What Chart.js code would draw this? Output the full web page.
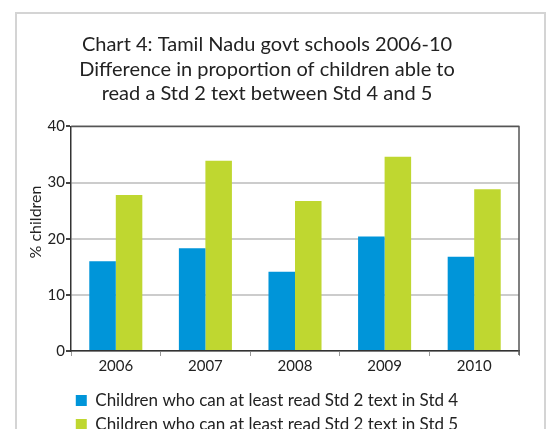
<!DOCTYPE html>
<html>
<head>
<meta charset="utf-8">
<script src="https://cdn.jsdelivr.net/npm/chart.js@4.4.1/dist/chart.umd.min.js"></script>
<style>
  html, body { margin: 0; padding: 0; width: 546px; height: 429px; overflow: hidden; background: #fff; }
  #frame { position: absolute; left: 15px; top: 12px; width: 527px; height: 480px; border: 2px solid #d4d4d4; border-bottom: none; }
  #c { position: absolute; left: 0; top: 0; }
</style>
</head>
<body>
<div id="frame"></div>
<canvas id="c" width="546" height="450"></canvas>
<script>
const titleLines = [
  'Chart 4: Tamil Nadu govt schools 2006-10',
  'Difference in proportion of children able to',
  'read a Std 2 text between Std 4 and 5'
];
const yAxisTitle = '% children';
const categories = ['2006', '2007', '2008', '2009', '2010'];
const seriesLabels = [
  'Children who can at least read Std 2 text in Std 4',
  'Children who can at least read Std 2 text in Std 5'
];
const std4Values = [16.0, 18.3, 14.1, 20.4, 16.8];
const std5Values = [27.8, 33.9, 26.7, 34.6, 28.8];
const yMin = 0, yMax = 40, yStep = 10;

const FONT = 'Lato, "Open Sans", sans-serif';
const BLUE = '#0095d9';
const GREEN = '#bfd730';

const extras = {
  id: 'extras',
  afterDraw(chart) {
    const ctx = chart.ctx;
    const a = chart.chartArea;
    ctx.save();
    ctx.strokeStyle = '#555';
    ctx.lineWidth = 1.5;
    ctx.beginPath();
    ctx.moveTo(a.left, a.top);
    ctx.lineTo(a.right, a.top);
    ctx.lineTo(a.right, a.bottom + 4);
    ctx.stroke();
    ctx.fillStyle = '#222';
    ctx.font = '16px ' + FONT;
    ctx.textAlign = 'center';
    ctx.textBaseline = 'middle';
    ctx.translate(36, 222);
    ctx.rotate(-Math.PI / 2);
    ctx.fillText(yAxisTitle, 0, 0);
    ctx.restore();
  }
};

new Chart(document.getElementById('c'), {
  type: 'bar',
  data: {
    labels: categories,
    datasets: [
      { label: seriesLabels[0], data: std4Values, backgroundColor: BLUE, borderWidth: 0 },
      { label: seriesLabels[1], data: std5Values, backgroundColor: GREEN, borderWidth: 0 }
    ]
  },
  options: {
    responsive: false,
    animation: false,
    devicePixelRatio: 1,
    layout: { padding: { left: 15, right: 27, top: 0, bottom: 7 } },
    datasets: { bar: { categoryPercentage: 0.592, barPercentage: 1.0 } },
    plugins: {
      title: {
        display: true,
        text: titleLines,
        color: '#222',
        font: { family: FONT, size: 20, weight: 'normal', lineHeight: 1.24 },
        padding: { top: 32, bottom: 20 }
      },
      legend: {
        display: true,
        position: 'bottom',
        labels: {
          color: '#222',
          font: { family: FONT, size: 17 },
          boxWidth: 11,
          boxHeight: 11,
          padding: 7
        }
      },
      tooltip: { enabled: false }
    },
    scales: {
      x: {
        grid: { display: true, drawOnChartArea: false, offset: true, tickLength: 5, tickColor: '#999', color: '#999' },
        border: { color: '#333', width: 1.5 },
        ticks: { color: '#222', font: { family: FONT, size: 15 }, padding: 1 },
        afterFit(s) { s.height = 34; }
      },
      y: {
        min: yMin, max: yMax,
        ticks: { stepSize: yStep, color: '#222', font: { family: FONT, size: 15 }, padding: 1 },
        grid: { color: '#cccccc', lineWidth: 2, tickColor: '#444', tickLength: 5 },
        border: { color: '#333', width: 1.5 },
        afterFit(s) { s.width = 56; }
      }
    }
  },
  plugins: [extras]
});
</script>
</body>
</html>
